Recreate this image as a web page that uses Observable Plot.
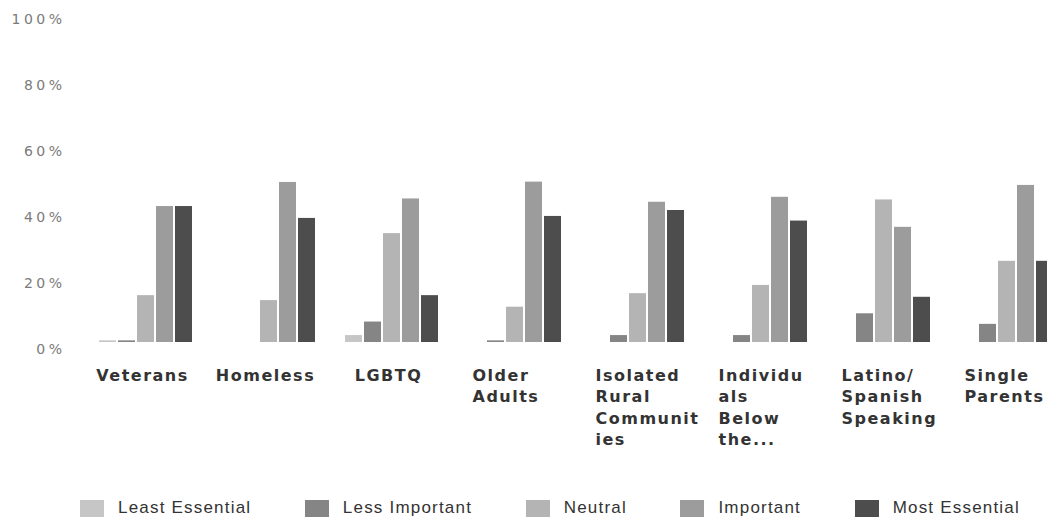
<!DOCTYPE html>
<html>
<head>
<meta charset="utf-8">
<script src="https://cdn.jsdelivr.net/npm/d3@7"></script>
<script src="https://cdn.jsdelivr.net/npm/@observablehq/plot@0.6"></script>
<style>
  html, body { margin: 0; padding: 0; background: #fff; overflow: hidden; }
  #chart { width: 1047px; overflow: hidden; }
  #chart svg { max-width: none !important; }
  g[aria-label="y-axis tick label"] text { letter-spacing: 3.5px; }
  g[aria-label="text"] text { letter-spacing: 1.5px; }
  .legend {
    display: flex; justify-content: space-between; align-items: center;
    box-sizing: border-box; margin-left: 80px; width: 940px; margin-top: 28px;
    font-family: "Liberation Sans", Arial, sans-serif; font-size: 17px;
    letter-spacing: 1.2px; color: #333;
  }
  .legend .item { display: flex; align-items: center; white-space: nowrap; }
  .legend .swatch { width: 24px; height: 17px; margin-right: 14px; }
</style>
</head>
<body>
<div id="chart"></div>
<div class="legend" id="legend"></div>
<script>
// Groups surveyed and how each was rated (percent of respondents)
const categories = [
  "Veterans", "Homeless", "LGBTQ", "Older Adults",
  "Isolated Rural Communities", "Individuals Below the...",
  "Latino/ Spanish Speaking", "Single Parents"
];
const categoryLabels = [
  "Veterans", "Homeless", "LGBTQ", "Older\nAdults",
  "Isolated\nRural\nCommunit\nies", "Individu\nals\nBelow\nthe...",
  "Latino/\nSpanish\nSpeaking", "Single\nParents"
];
const ratings = ["Least Essential", "Less Important", "Neutral", "Important", "Most Essential"];

const leastEssential = [0.5, 0, 2.1, 0, 0, 0, 0, 0];
const lessImportant  = [0.5, 0, 6.2, 0.5, 2.1, 2.1, 8.7, 5.5];
const neutral        = [14.2, 12.7, 33.0, 10.7, 14.8, 17.3, 43.2, 24.6];
const important      = [41.2, 48.5, 43.5, 48.6, 42.5, 44.0, 34.9, 47.6];
const mostEssential  = [41.2, 37.6, 14.2, 38.2, 40.0, 36.8, 13.7, 24.6];

const yTicks = [0, 20, 40, 60, 80, 100];
const ratingColors = ["#c6c6c6", "#858585", "#b4b4b4", "#9c9c9c", "#4d4d4d"];

const series = [leastEssential, lessImportant, neutral, important, mostEssential];
const bars = categories.flatMap((category, i) =>
  ratings.map((rating, j) => ({category, rating, value: series[j][i]}))
);
const labels = categories.map((category, i) => ({category, label: categoryLabels[i]}));
const singleLine = labels.filter(d => !d.label.includes("\n"));
const multiLine = labels.filter(d => d.label.includes("\n"));

const labelStyle = {
  fx: "category",
  text: "label",
  frameAnchor: "bottom",
  lineAnchor: "top",
  dy: 23,
  lineHeight: 1.34,
  fontSize: 16,
  fontWeight: "bold",
  fill: "#333"
};

const chart = Plot.plot({
  width: 1095,
  height: 470,
  marginLeft: 67,
  marginRight: 11,
  marginTop: 12,
  marginBottom: 128,
  style: {fontFamily: "'DejaVu Sans', sans-serif", background: "#fff", overflow: "visible"},
  fx: {domain: categories, paddingInner: 0.218, paddingOuter: 0.218, axis: null, label: null},
  x: {domain: ratings, paddingInner: 0.12, paddingOuter: 0, axis: null},
  y: {domain: [0, 100], axis: null},
  color: {domain: ratings, range: ratingColors},
  marks: [
    Plot.barY(bars, {fx: "category", x: "rating", y: "value", fill: "rating"}),
    Plot.axisY({
      ticks: yTicks,
      tickFormat: d => d + "%",
      tickSize: 0,
      tickPadding: 6,
      dx: -26,
      dy: 7,
      fontSize: 14,
      fill: "#7a7a7a",
      label: null
    }),
    Plot.text(singleLine, {...labelStyle, textAnchor: "middle", dx: -3}),
    Plot.text(multiLine, {...labelStyle, textAnchor: "start", dx: -42})
  ]
});
document.getElementById("chart").appendChild(chart);

// Legend row below the chart
const legend = d3.select("#legend");
ratings.forEach((r, j) => {
  const item = legend.append("div").attr("class", "item");
  item.append("div").attr("class", "swatch").style("background", ratingColors[j]);
  item.append("span").text(r);
});
</script>
</body>
</html>
